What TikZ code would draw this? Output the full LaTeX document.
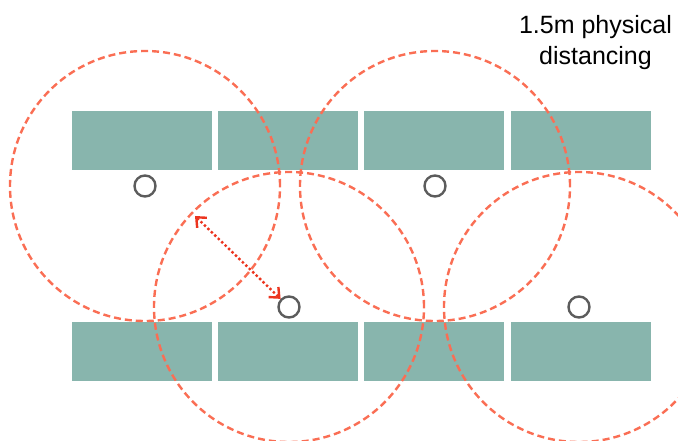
\documentclass[tikz,border=0pt]{standalone}
\usepackage{fontspec}
\setmainfont{Liberation Sans}
\usetikzlibrary{arrows.meta,calc}

\definecolor{tablegreen}{RGB}{136,181,173}
\definecolor{zonered}{RGB}{250,110,84}
\definecolor{arrowred}{RGB}{236,52,30}
\definecolor{persongray}{RGB}{92,92,92}

\tikzset{
    table/.style={fill=tablegreen},
    person/.style={circle, draw=persongray, fill=white, line width=2.4pt, minimum size=21pt, inner sep=0pt},
    zone/.style={draw=zonered, line width=2.4pt, dash pattern=on 7pt off 4pt},
    gap/.style={arrowred, line width=2.4pt, dash pattern=on 2.4pt off 2.4pt, {Straight Barb[length=8pt,width=14pt]}-{Straight Barb[length=8pt,width=14pt]}}
}

\begin{document}
\begin{tikzpicture}[x=1pt, y=-1pt]
    \useasboundingbox (0,0) rectangle (678,441);
    \clip (0,0) rectangle (678,441);

    % tables
    \foreach \x in {72, 218, 364, 511} {
        \fill[table] (\x, 111) rectangle (\x+140, 170);
        \fill[table] (\x, 322) rectangle (\x+140, 381);
    }

    % people
    \node[person] (p1) at (145, 186) {};
    \node[person] (p2) at (289, 307) {};
    \node[person] (p3) at (435, 186) {};
    \node[person] (p4) at (579, 307) {};

    % distancing zones
    \foreach \p in {p1, p2, p3, p4} {
        \draw[zone] (\p) circle (135pt);
    }

    % radius arrow
    \coordinate (edge) at ($(p2)+(-94,-91)$);
    \draw[gap] (edge) -- (p2);

    % label
    \node[align=center, inner sep=0pt, font=\fontsize{25}{31}\selectfont] (label) at (595.5, 43) {1.5m physical\\distancing};
\end{tikzpicture}
\end{document}
